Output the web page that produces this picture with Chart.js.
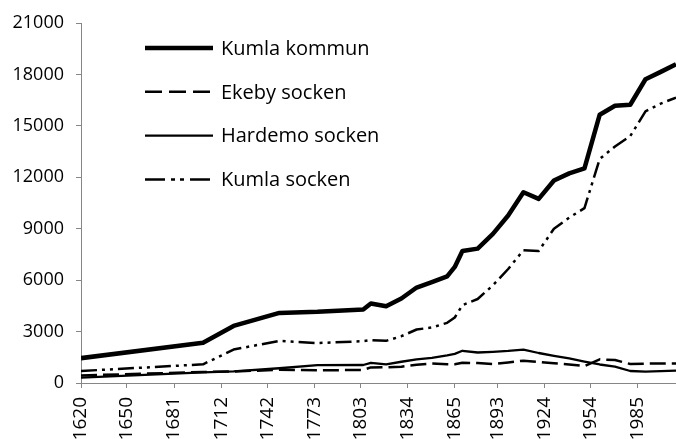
<!DOCTYPE html>
<html>
<head>
<meta charset="utf-8">
<script src="https://cdn.jsdelivr.net/npm/chart.js@4"></script>
<style>
html,body{margin:0;padding:0;background:#fff}
#wrap{width:676px;height:439px}
</style>
</head>
<body>
<div id="wrap"><canvas id="myChart"></canvas></div>
<script>
// years of the census points, shared by all series
const years = [1620,1700,1720,1750,1775,1805,1810,1820,1830,1840,1850,1860,1865,1870,1880,1890,1900,1910,1920,1930,1940,1950,1960,1970,1980,1990,2000,2010];
const kumlaKommun = [1450,2350,3330,4090,4150,4290,4640,4480,4930,5570,5890,6220,6770,7700,7840,8700,9770,11130,10740,11810,12230,12520,15650,16170,16230,17720,18150,18600];
const ekebySocken = [440,640,670,770,740,760,910,920,950,1060,1140,1100,1090,1180,1160,1110,1200,1300,1220,1150,1080,990,1380,1340,1110,1130,1140,1140];
const hardemoSocken = [310,620,680,860,1040,1050,1180,1090,1240,1380,1470,1610,1700,1880,1780,1820,1870,1950,1750,1580,1430,1250,1080,960,700,660,690,720];
const kumlaSocken = [700,1090,1950,2460,2330,2440,2500,2460,2730,3120,3240,3510,3820,4540,4900,5700,6650,7750,7700,9000,9650,10200,13070,13800,14400,15850,16300,16650];
const tickYears = [1620,1650,1681,1712,1742,1773,1803,1834,1865,1893,1924,1954,1985];

const fontFam = '"Open Sans", sans-serif';
const axisGrey = '#868686';

const pts = arr => years.map((x, i) => ({x: x, y: arr[i]}));

// legend drawn inside the plot, upper left
const legendInside = {
  id: 'legendInside',
  afterDraw(chart) {
    const ctx = chart.ctx;
    ctx.save();
    chart.data.datasets.forEach((ds, i) => {
      const y = 48 + i * 43.8;
      ctx.beginPath();
      ctx.lineWidth = ds.borderWidth;
      ctx.setLineDash(ds.legendDash || []);
      ctx.strokeStyle = ds.borderColor;
      ctx.moveTo(145, y);
      ctx.lineTo(213, y);
      ctx.stroke();
      ctx.setLineDash([]);
      ctx.fillStyle = '#000';
      ctx.font = '20px ' + fontFam;
      ctx.textBaseline = 'middle';
      ctx.fillText(ds.label, 221, y + 1);
    });
    ctx.restore();
  }
};

const ctx = document.getElementById('myChart');
new Chart(ctx, {
  type: 'line',
  data: {
    datasets: [
      {label: 'Kumla kommun', data: pts(kumlaKommun), borderColor: '#000', borderWidth: 4.5},
      {label: 'Ekeby socken', data: pts(ekebySocken), borderColor: '#000', borderWidth: 2.5,
       borderDash: [16, 6], legendDash: [17, 7]},
      {label: 'Hardemo socken', data: pts(hardemoSocken), borderColor: '#000', borderWidth: 2.3},
      {label: 'Kumla socken', data: pts(kumlaSocken), borderColor: '#000', borderWidth: 2.5,
       borderDash: [16, 5, 3, 5, 3, 5], legendDash: [20, 6, 4, 5, 4, 6]}
    ]
  },
  options: {
    animation: false,
    responsive: true,
    maintainAspectRatio: false,
    layout: {padding: {top: 23, right: 0, left: 0, bottom: 0}},
    elements: {
      point: {radius: 0},
      line: {tension: 0, borderJoinStyle: 'round', fill: false}
    },
    plugins: {
      legend: {display: false},
      tooltip: {enabled: false}
    },
    scales: {
      x: {
        type: 'linear',
        min: 1620,
        max: 2010,
        afterBuildTicks: axis => { axis.ticks = tickYears.map(v => ({value: v})); },
        afterFit: s => { s.height = 56; },
        ticks: {
          autoSkip: false,
          maxRotation: 90,
          minRotation: 90,
          padding: 9,
          color: '#000',
          font: {family: fontFam, size: 19},
          callback: v => String(v)
        },
        grid: {drawOnChartArea: false, tickLength: 5, color: axisGrey},
        border: {color: axisGrey}
      },
      y: {
        min: 0,
        max: 21000,
        afterFit: s => { s.width = 81; },
        ticks: {
          stepSize: 3000,
          padding: 12,
          color: '#000',
          font: {family: fontFam, size: 18},
          callback: v => String(v)
        },
        grid: {drawOnChartArea: false, tickLength: 5, color: axisGrey},
        border: {color: axisGrey}
      }
    }
  },
  plugins: [legendInside]
});
</script>
</body>
</html>
